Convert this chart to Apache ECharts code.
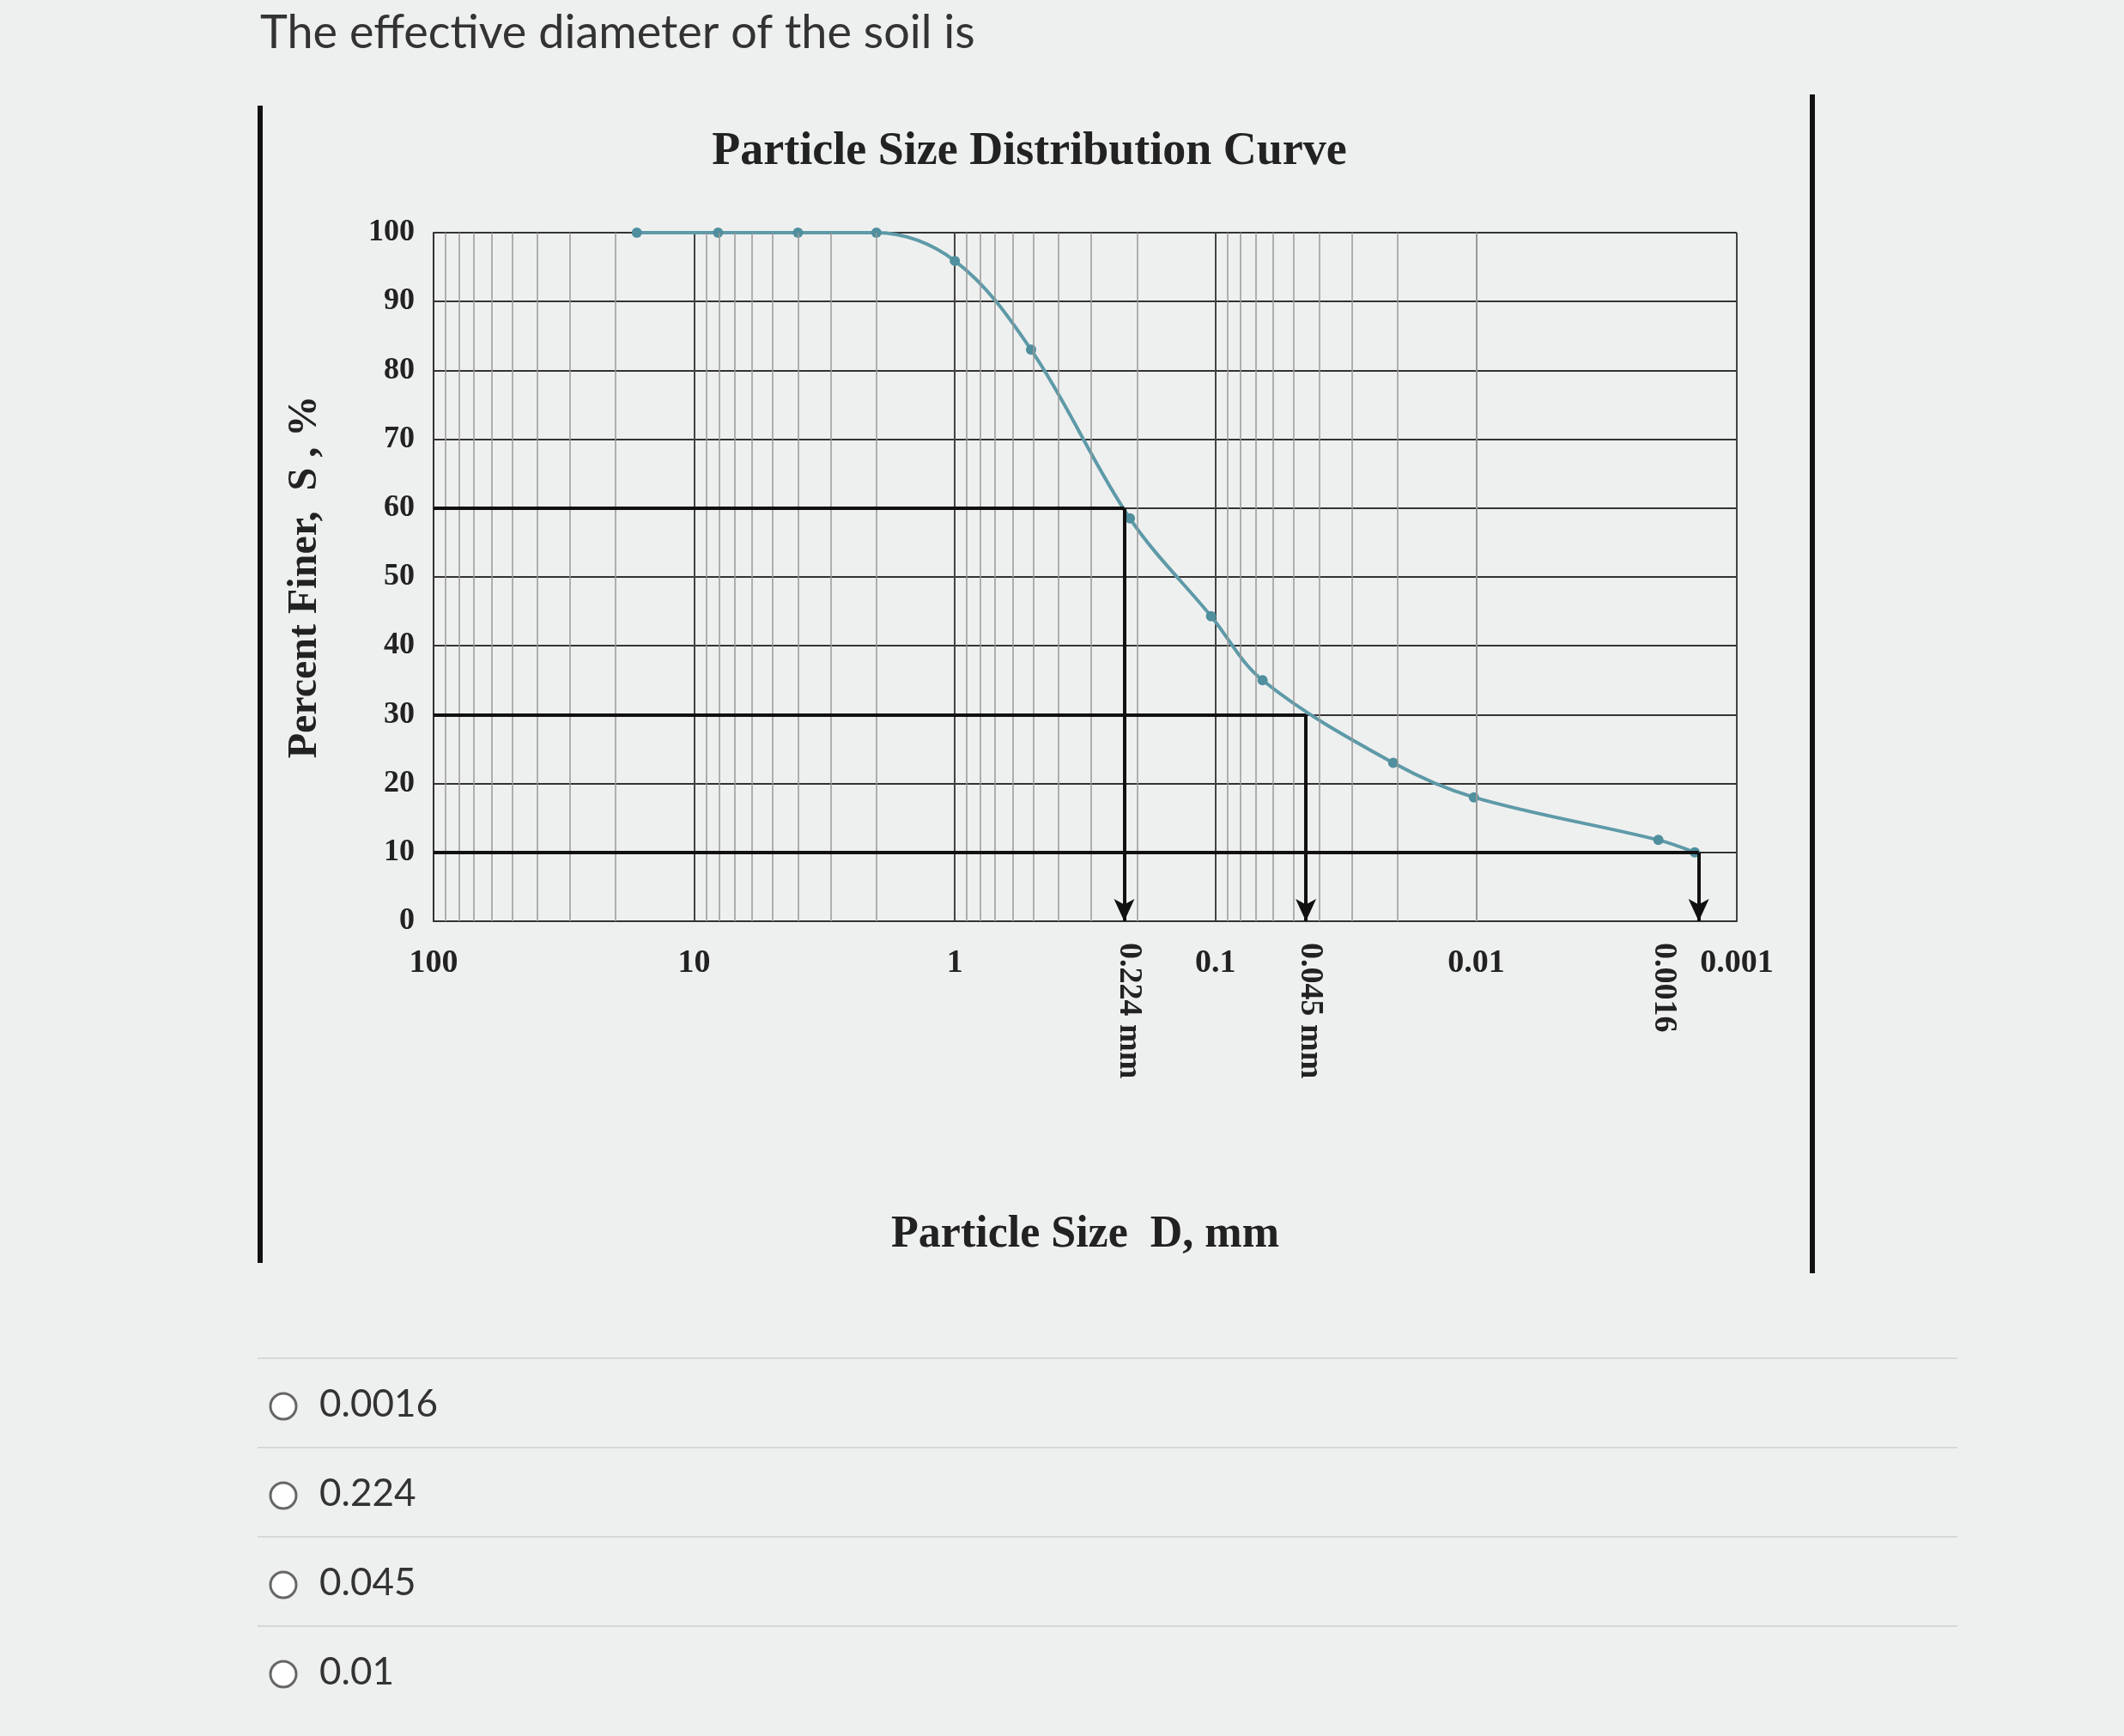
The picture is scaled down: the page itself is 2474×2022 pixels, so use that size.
<!DOCTYPE html>
<html><head><meta charset="utf-8">
<script src="https://cdn.jsdelivr.net/npm/echarts@6/dist/echarts.min.js"></script>
<style>html,body{margin:0;background:#eef0ef;}#c{width:2474px;height:2022px;}</style>
</head><body><div id="c"></div>
<script>
const sizes = [16.6, 8.1, 4.0, 2.0, 1.0, 0.51, 0.213, 0.104, 0.066, 0.0208, 0.0102, 0.0020, 0.00145];
const finer = [100, 100, 100, 100, 95.9, 83, 58.5, 44.3, 35, 23, 18, 11.8, 10];
const refPct = [60, 30, 10];
const refD = [0.224, 0.045, 0.0014];
const refLabels = ['0.224 mm', '0.045 mm', '0.0016'];
const labelShift = [24, 24, -22];
const options = ['0.0016', '0.224', '0.045', '0.01'];
const minorGrid = [];
[0.001, 0.01, 0.1, 1, 10].forEach(d => { for (let k = 2; k <= 9; k++) minorGrid.push(+(d * k).toPrecision(3)); });

const chart = echarts.init(document.getElementById('c'));
const serif = 'Liberation Serif';
const refLines = [];
refPct.forEach((p, i) => {
  refLines.push([{coord: [100, p], symbol: 'none'}, {coord: [refD[i], p], symbol: 'none'}]);
  refLines.push([{coord: [refD[i], p], symbol: 'none'}, {coord: [refD[i], 0], symbol: 'arrow'}]);
});
chart.setOption({
  backgroundColor: '#eef0ef',
  animation: false,
  title: {text: 'Particle Size Distribution Curve', left: 1194, top: 145, textAlign: 'center',
    textStyle: {fontFamily: serif, fontWeight: 'bold', fontSize: 54, color: '#222'}},
  grid: {left: 505, right: 451, top: 271, bottom: 949},
  xAxis: {type: 'log', inverse: true, min: 0.001, max: 100, logBase: 10,
    name: 'Particle Size  D, mm', nameLocation: 'middle', nameGap: 340,
    nameTextStyle: {fontFamily: serif, fontWeight: 'bold', fontSize: 52, color: '#222'},
    axisLine: {lineStyle: {color: '#333', width: 2}}, axisTick: {show: false},
    axisLabel: {fontFamily: serif, fontWeight: 'bold', fontSize: 38, color: '#222', margin: 30,
      formatter: v => String(+v.toPrecision(3))},
    splitLine: {show: true, lineStyle: {color: '#444', width: 2}}},
  yAxis: {type: 'value', min: 0, max: 100, interval: 10,
    name: 'Percent Finer,  S , %', nameLocation: 'middle', nameGap: 125,
    nameTextStyle: {fontFamily: serif, fontWeight: 'bold', fontSize: 48, color: '#222'},
    axisLine: {show: true, lineStyle: {color: '#333', width: 2}}, axisTick: {show: false},
    axisLabel: {fontFamily: serif, fontWeight: 'bold', fontSize: 36, color: '#222', margin: 22},
    splitLine: {lineStyle: {color: '#333', width: 2}}},
  series: [
    {type: 'line', data: [], silent: true,
      markLine: {silent: true, symbol: 'none', label: {show: false},
        lineStyle: {color: '#999', width: 1.5, type: 'solid'},
        data: minorGrid.map(v => ({xAxis: v}))}},
    {type: 'line', smooth: 0.35, data: sizes.map((s, i) => [s, finer[i]]),
      symbol: 'circle', symbolSize: 12, lineStyle: {color: '#5e9aa8', width: 4},
      itemStyle: {color: '#4f8f9e'},
      markLine: {silent: true, symbolSize: [18, 26], label: {show: false},
        lineStyle: {color: '#111', width: 4, type: 'solid'}, data: refLines}}
  ]
});

const txt = [];
refD.forEach((d, i) => {
  const pt = chart.convertToPixel({gridIndex: 0}, [d, 0]);
  txt.push({type: 'text', x: pt[0] + labelShift[i], y: pt[1] + 25, rotation: -Math.PI / 2,
    style: {text: refLabels[i], fontFamily: serif, fontWeight: 'bold', fontSize: 38, fill: '#222'}});
});
txt.push({type: 'text', x: 303, y: 12, style: {text: 'The effective diameter of the soil is',
  fontFamily: 'Lato', fontSize: 54, fill: '#333'}});
txt.push({type: 'rect', shape: {x: 300, y: 123, width: 6, height: 1348}, style: {fill: '#111'}});
txt.push({type: 'rect', shape: {x: 2108, y: 110, width: 6, height: 1373}, style: {fill: '#111'}});
options.forEach((o, i) => {
  const y = 1638 + i * 104;
  txt.push({type: 'line', shape: {x1: 300, y1: y - 56, x2: 2280, y2: y - 56}, style: {stroke: '#d6d8d7', lineWidth: 2}});
  txt.push({type: 'circle', shape: {cx: 330, cy: y, r: 15}, style: {fill: '#fff', stroke: '#666', lineWidth: 3}});
  txt.push({type: 'text', x: 372, y: y - 24, style: {text: o, fontFamily: 'Lato', fontSize: 44, fill: '#333'}});
});
chart.setOption({graphic: txt});
</script></body></html>
